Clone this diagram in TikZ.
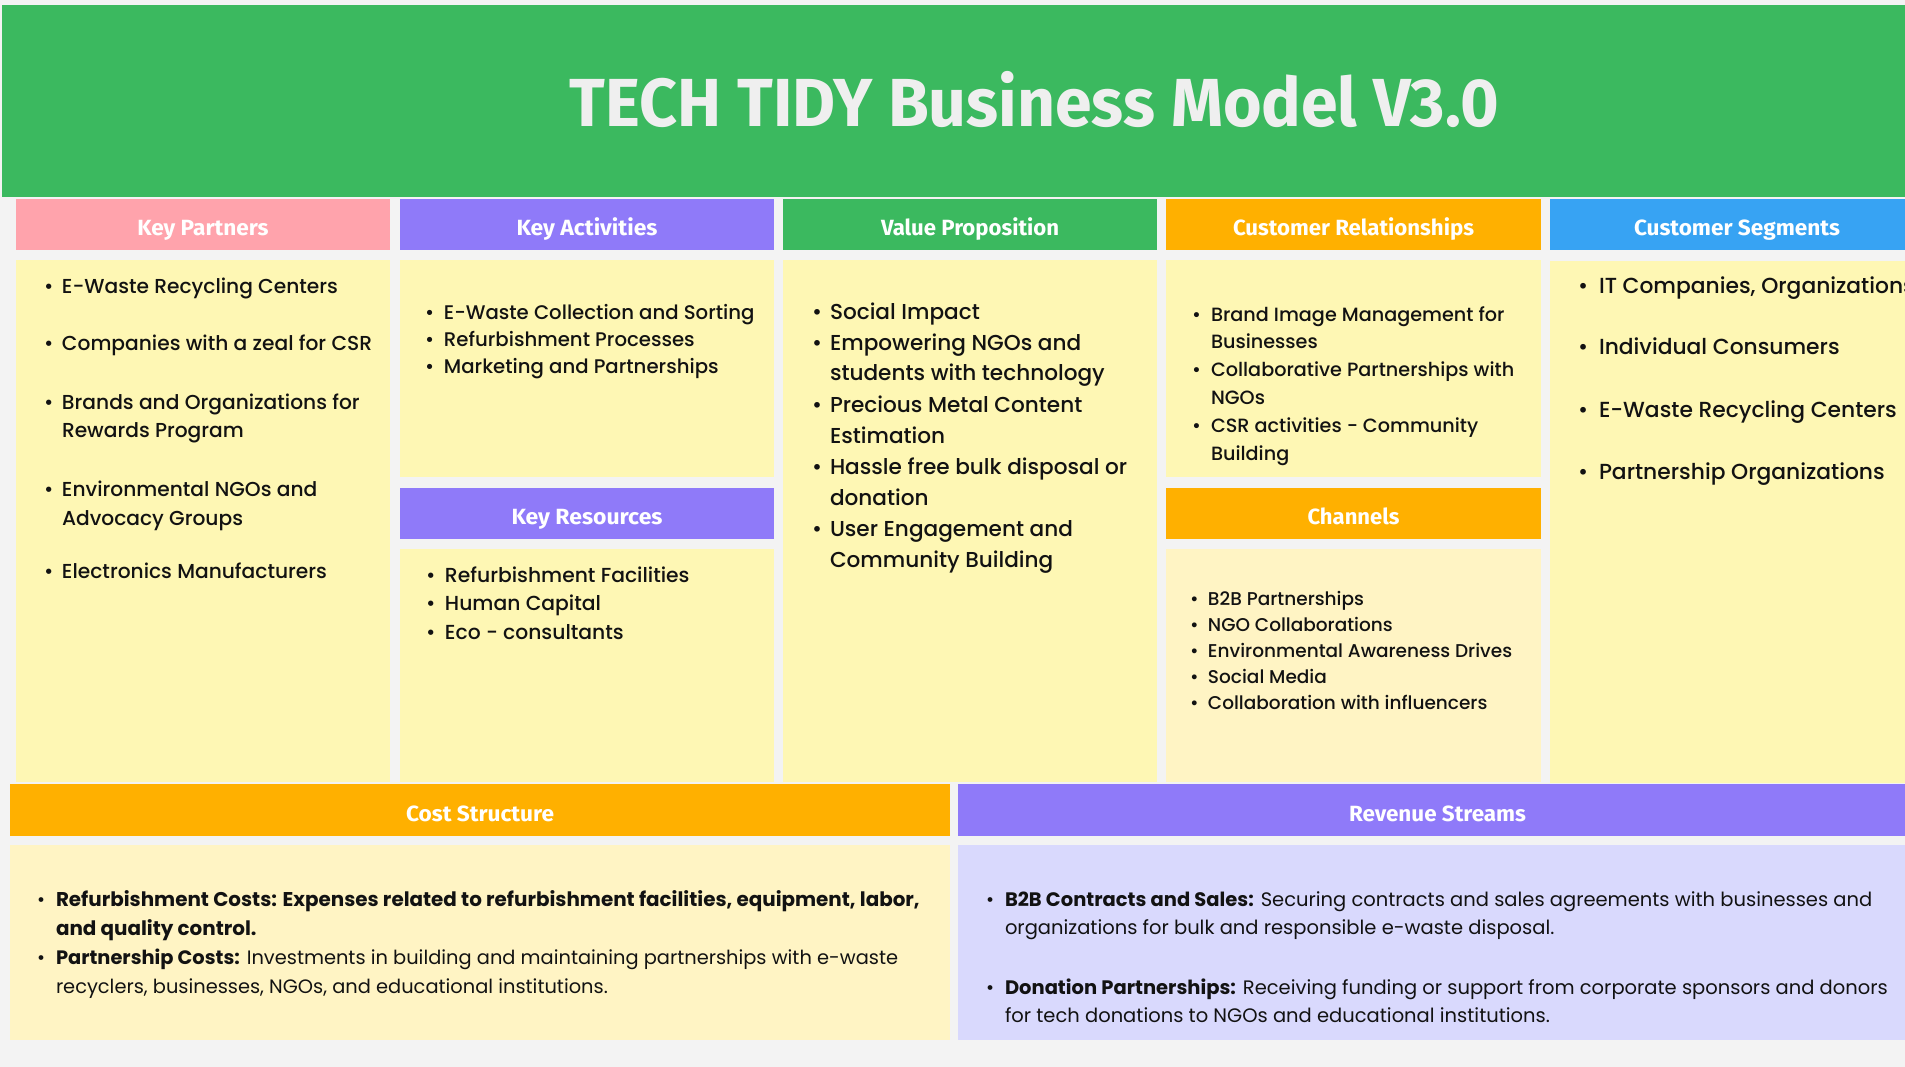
\documentclass[tikz,border=0pt]{standalone}
\usepackage{fontspec}
\usepackage{graphicx}
\setmainfont{Poppins}
\newfontfamily\medf{Poppins Medium}
\newfontfamily\headf{Fira Sans}

\definecolor{pagebg}{HTML}{F3F3F3}
\definecolor{bandgreen}{HTML}{3BB95F}
\definecolor{titletext}{HTML}{EFEFEF}
\definecolor{pinkhead}{HTML}{FFA3AC}
\definecolor{purplehead}{HTML}{8F7AF9}
\definecolor{amberhead}{HTML}{FFB000}
\definecolor{bluehead}{HTML}{37A3F3}
\definecolor{note}{HTML}{FEF7B4}
\definecolor{notepale}{HTML}{FFF4C4}
\definecolor{lilac}{HTML}{D9D9FD}
\definecolor{ink}{HTML}{121212}

% stretch a header label horizontally to a given width (in pt)
\newcommand\hfit[2]{\resizebox{#1pt}{\height}{#2}}

\begin{document}
\begin{tikzpicture}[x=1pt,y=-1pt,
  panel/.style 2 args={rectangle, inner sep=0pt, outer sep=0pt, anchor=north west,
    minimum width=#1pt, minimum height=#2pt},
  headtext/.style={text=white, text height=24pt, text depth=2pt,
    font={\headf\fontsize{22}{22}\selectfont\bfseries}},
  list/.style={anchor=base west, inner sep=0pt, outer sep=0pt, text=ink},
]
\useasboundingbox (0,0) rectangle (1905,1067);
\fill[pagebg] (0,0) rectangle (1905,1067);

% title band
\node[panel={2065}{192}, fill=bandgreen] (band) at (2,5) {};
\node[inner sep=0pt, text=titletext, font={\headf\fontsize{68}{68}\selectfont\bfseries}]
  (title) at (1034.5,100) {\hfit{929}{TECH TIDY Business Model V3.0}};

% column headers
\node[panel={374}{51}, fill=pinkhead, headtext] (kph) at (16,199) {\hfit{131}{Key Partners}};
\node[panel={374}{51}, fill=purplehead, headtext] (kah) at (400,199) {\hfit{141}{Key Activities}};
\node[panel={374}{51}, fill=bandgreen, headtext] (vph) at (783,199) {\hfit{178}{Value Proposition}};
\node[panel={375}{51}, fill=amberhead, headtext] (crh) at (1166,199) {\hfit{241}{Customer Relationships}};
\node[panel={374}{51}, fill=bluehead, headtext] (csh) at (1550,199) {\hfit{206}{Customer Segments}};

% column bodies
\node[panel={374}{522}, fill=note] (kpb) at (16,260) {};
\node[panel={374}{217}, fill=note] (kab) at (400,260) {};
\node[panel={374}{51}, fill=purplehead, headtext] (krh) at (400,488) {\hfit{151}{Key Resources}};
\node[panel={374}{233}, fill=note] (krb) at (400,549) {};
\node[panel={374}{522}, fill=note] (vpb) at (783,260) {};
\node[panel={375}{217}, fill=note] (crb) at (1166,260) {};
\node[panel={375}{51}, fill=amberhead, headtext] (chh) at (1166,488) {\hfit{92}{Channels}};
\node[panel={375}{233}, fill=notepale] (chb) at (1166,549) {};
\node[panel={374}{522}, fill=note] (csb) at (1550,261) {};

% bottom row
\node[panel={940}{52}, fill=amberhead, headtext] (cth) at (10,784) {\hfit{148}{Cost Structure}};
\node[panel={940}{195}, fill=notepale] (ctb) at (10,845) {};
\node[panel={959}{52}, fill=purplehead, headtext] (rvh) at (958,784) {\hfit{177}{Revenue Streams}};
\node[panel={959}{195}, fill=lilac] (rvb) at (958,845) {};

% lists
\node[list, font={\medf\fontsize{20.2}{28.5}\selectfont}] (kpl) at (44,293) {%
  \begin{tabular}[t]{@{}p{18pt}@{}l@{}}
  \textbullet & E-Waste Recycling Centers\\[28.5pt]
  \textbullet & Companies with a zeal for CSR\\[30.5pt]
  \textbullet & Brands and Organizations for\\
              & Rewards Program\\[30.5pt]
  \textbullet & Environmental NGOs and\\
              & Advocacy Groups\\[24.5pt]
  \textbullet & Electronics Manufacturers
  \end{tabular}};

\node[list, font={\medf\fontsize{19.7}{27.5}\selectfont}] (kal) at (425,319) {%
  \begin{tabular}[t]{@{}p{19pt}@{}l@{}}
  \textbullet & E-Waste Collection and Sorting\\
  \textbullet & Refurbishment Processes\\
  \textbullet & Marketing and Partnerships
  \end{tabular}};

\node[list, font={\medf\fontsize{20.3}{28.5}\selectfont}] (krl) at (426,582) {%
  \begin{tabular}[t]{@{}p{19pt}@{}l@{}}
  \textbullet & Refurbishment Facilities\\
  \textbullet & Human Capital\\
  \textbullet & Eco - consultants
  \end{tabular}};

\node[list, font={\medf\fontsize{21.6}{31}\selectfont}] (vpl) at (812,319) {%
  \begin{tabular}[t]{@{}p{18pt}@{}l@{}}
  \textbullet & Social Impact\\
  \textbullet & Empowering NGOs and\\
              & students with technology\\
  \textbullet & Precious Metal Content\\
              & Estimation\\
  \textbullet & Hassle free bulk disposal or\\
              & donation\\
  \textbullet & User Engagement and\\
              & Community Building
  \end{tabular}};

\node[list, font={\medf\fontsize{19.2}{27.8}\selectfont}] (crl) at (1192,321) {%
  \begin{tabular}[t]{@{}p{19pt}@{}l@{}}
  \textbullet & Brand Image Management for\\
              & Businesses\\
  \textbullet & Collaborative Partnerships with\\
              & NGOs\\
  \textbullet & CSR activities - Community\\
              & Building
  \end{tabular}};

\node[list, font={\medf\fontsize{18.5}{26}\selectfont}] (chl) at (1190,605) {%
  \begin{tabular}[t]{@{}p{18pt}@{}l@{}}
  \textbullet & B2B Partnerships\\
  \textbullet & NGO Collaborations\\
  \textbullet & Environmental Awareness Drives\\
  \textbullet & Social Media\\
  \textbullet & Collaboration with influencers
  \end{tabular}};

\node[list, font={\medf\fontsize{21.8}{31}\selectfont}] (csl) at (1578,293) {%
  \begin{tabular}[t]{@{}p{21pt}@{}l@{}}
  \textbullet & IT Companies, Organizations\\[31pt]
  \textbullet & Individual Consumers\\[31pt]
  \textbullet & E-Waste Recycling Centers\\[31pt]
  \textbullet & Partnership Organizations
  \end{tabular}};

\node[list, font={\rmfamily\fontsize{19.4}{29}\selectfont}] (ctl) at (37,906) {%
  \begin{tabular}[t]{@{}p{19pt}@{}l@{}}
  \textbullet & {\fontsize{19.9}{29}\selectfont\bfseries Refurbishment Costs: Expenses related to refurbishment facilities, equipment, labor,}\\
              & {\fontsize{19.9}{29}\selectfont\bfseries and quality control.}\\
  \textbullet & \textbf{Partnership Costs:} Investments in building and maintaining partnerships with e-waste\\
              & recyclers, businesses, NGOs, and educational institutions.
  \end{tabular}};

\node[list, font={\rmfamily\fontsize{19.5}{28}\selectfont}] (rvl) at (986,906) {%
  \begin{tabular}[t]{@{}p{19pt}@{}l@{}}
  \textbullet & \textbf{B2B Contracts and Sales:} Securing contracts and sales agreements with businesses and\\
              & organizations for bulk and responsible e-waste disposal.\\[32pt]
  \textbullet & \textbf{Donation Partnerships:} Receiving funding or support from corporate sponsors and donors\\
              & for tech donations to NGOs and educational institutions.
  \end{tabular}};
\end{tikzpicture}
\end{document}
